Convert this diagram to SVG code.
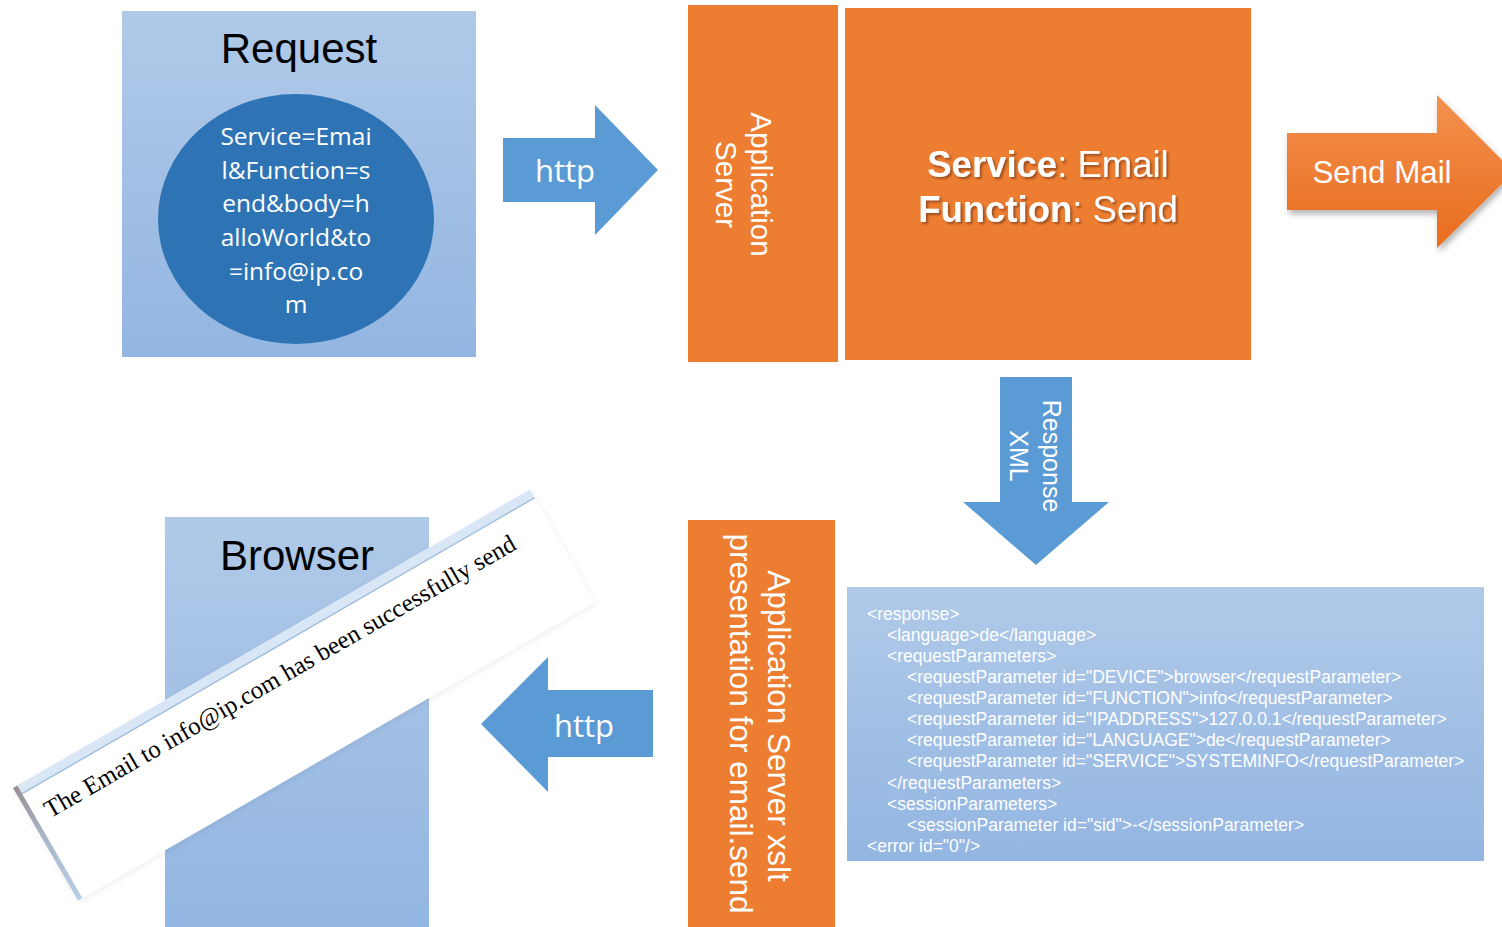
<svg xmlns="http://www.w3.org/2000/svg" width="1502" height="927" viewBox="0 0 1502 927">
<defs>
<linearGradient id="gBlue" x1="0" y1="0" x2="0" y2="1">
<stop offset="0" stop-color="#b0c9e8"/>
<stop offset="1" stop-color="#93b6e2"/>
</linearGradient>
<linearGradient id="gOrange" x1="0" y1="0" x2="0" y2="1">
<stop offset="0" stop-color="#f3914f"/>
<stop offset="1" stop-color="#e86c1c"/>
</linearGradient>
<linearGradient id="gEdge" x1="0" y1="0" x2="0" y2="1">
<stop offset="0" stop-color="#9a8f92"/>
<stop offset="0.45" stop-color="#a9b6c8"/>
<stop offset="1" stop-color="#b8cfe8"/>
</linearGradient>
<filter id="txtShadow" x="-10%" y="-30%" width="120%" height="160%">
<feDropShadow dx="2" dy="2" stdDeviation="1.2" flood-color="#5a2a08" flood-opacity="0.55"/>
</filter>
<filter id="boxShadow" x="-10%" y="-20%" width="130%" height="150%">
<feDropShadow dx="2" dy="4" stdDeviation="3" flood-color="#000" flood-opacity="0.3"/>
</filter>
<filter id="stripShadow" x="-10%" y="-20%" width="120%" height="150%">
<feDropShadow dx="0" dy="2" stdDeviation="3" flood-color="#000" flood-opacity="0.07"/>
</filter>
</defs>
<style>
.sans{font-family:"Liberation Sans",Arial,sans-serif}
.cal{font-family:"Open Sans","Noto Sans",sans-serif}
.title{font-size:42px;fill:#000;text-anchor:middle}
.white{fill:#fff}
.mid{text-anchor:middle}
.xml{font-family:"Liberation Sans",Arial,sans-serif;font-size:17.5px;fill:#fff}
.blueArrow{fill:#5b9bd5}
.orange{fill:#ed7d31}
</style>
<rect width="1502" height="927" fill="#fff"/>

<g id="request">
<rect x="122" y="11" width="354" height="346" fill="url(#gBlue)"/>
<text class="sans title" x="299" y="63">Request</text>
<ellipse cx="296" cy="219" rx="138" ry="125" fill="#2e74b5"/>
<g class="cal white mid" font-size="24.5">
<text x="296" y="145">Service=Emai</text>
<text x="296" y="179">l&amp;Function=s</text>
<text x="296" y="212">end&amp;body=h</text>
<text x="296" y="246">alloWorld&amp;to</text>
<text x="296" y="280">=info@ip.co</text>
<text x="296" y="313">m</text>
</g>
</g>

<g id="app-server">
<rect x="688" y="5" width="150" height="357" class="orange"/>
<text class="sans white mid" font-size="29.5" transform="translate(751,184.5) rotate(90)">Application</text>
<text class="sans white mid" font-size="29.5" transform="translate(716,184.5) rotate(90)">Server</text>
</g>

<g id="service">
<rect x="845" y="8" width="406" height="352" class="orange"/>
<g class="sans white mid" font-size="36.5" filter="url(#txtShadow)">
<text x="1048" y="177"><tspan font-weight="bold">Service</tspan>: Email</text>
<text x="1048" y="222"><tspan font-weight="bold">Function</tspan>: Send</text>
</g>
</g>

<g id="xml-response">
<rect x="847" y="587" width="637" height="274" fill="url(#gBlue)"/>
<text class="xml" x="867" y="620" font-size="15.3">&lt;response&gt;</text>
<text class="xml" x="887" y="641">&lt;language&gt;de&lt;/language&gt;</text>
<text class="xml" x="887" y="662">&lt;requestParameters&gt;</text>
<text class="xml" x="907" y="683">&lt;requestParameter id="DEVICE"&gt;browser&lt;/requestParameter&gt;</text>
<text class="xml" x="907" y="704">&lt;requestParameter id="FUNCTION"&gt;info&lt;/requestParameter&gt;</text>
<text class="xml" x="907" y="725">&lt;requestParameter id="IPADDRESS"&gt;127.0.0.1&lt;/requestParameter&gt;</text>
<text class="xml" x="907" y="746">&lt;requestParameter id="LANGUAGE"&gt;de&lt;/requestParameter&gt;</text>
<text class="xml" x="907" y="767">&lt;requestParameter id="SERVICE"&gt;SYSTEMINFO&lt;/requestParameter&gt;</text>
<text class="xml" x="887" y="789">&lt;/requestParameters&gt;</text>
<text class="xml" x="887" y="810">&lt;sessionParameters&gt;</text>
<text class="xml" x="907" y="831">&lt;sessionParameter id="sid"&gt;-&lt;/sessionParameter&gt;</text>
<text class="xml" x="867" y="852">&lt;error id="0"/&gt;</text>
</g>

<g id="xslt">
<rect x="688" y="520" width="147" height="407" class="orange"/>
<text class="sans white mid" font-size="31.5" transform="translate(768,726) rotate(90)">Application Server xslt</text>
<text class="sans white mid" font-size="31.5" transform="translate(730,723.5) rotate(90)">presentation for email.send</text>
</g>

<g id="browser">
<rect x="165" y="517" width="264" height="410" fill="url(#gBlue)"/>
<text class="sans title" x="297" y="570">Browser</text>
<g transform="translate(13,788) rotate(-30)">
<rect x="0" y="0" width="597" height="130" fill="#fff" filter="url(#stripShadow)"/>
<rect x="0" y="0" width="597" height="9" fill="#d8e6f6"/>
<line x1="0" y1="9.5" x2="597" y2="9.5" stroke="#9fbcdd" stroke-width="1.4"/>
<rect x="0" y="0" width="5" height="130" fill="url(#gEdge)"/>
<text x="17" y="45" font-family="'Liberation Serif','Times New Roman',serif" font-size="25" fill="#000" textLength="540" lengthAdjust="spacingAndGlyphs">The Email to info@ip.com has been successfully send</text>
</g>
</g>

<g id="connectors">
<g id="http-right">
<polygon class="blueArrow" points="503,138 595,138 595,105 658,170 595,235 595,202 503,202"/>
<text class="cal white mid" font-size="31" x="565" y="182">http</text>
</g>
<g id="send-mail">
<polygon fill="url(#gOrange)" filter="url(#boxShadow)" points="1287,133 1437,133 1437,95 1514,172 1437,248 1437,210 1287,210"/>
<text class="sans white mid" font-size="31.3" x="1382" y="183">Send Mail</text>
</g>
<g id="response-xml">
<polygon class="blueArrow" points="1000,377 1072,377 1072,502 1109,502 1036,565 963,502 1000,502"/>
<text class="sans white mid" font-size="25" transform="translate(1043,456) rotate(90)">Response</text>
<text class="sans white mid" font-size="25" transform="translate(1010,456) rotate(90)">XML</text>
</g>
<g id="http-left">
<polygon class="blueArrow" points="653,690 548,690 548,657 481,724 548,792 548,757 653,757"/>
<text class="cal white mid" font-size="31" x="584" y="737">http</text>
</g>
</g>
</svg>
